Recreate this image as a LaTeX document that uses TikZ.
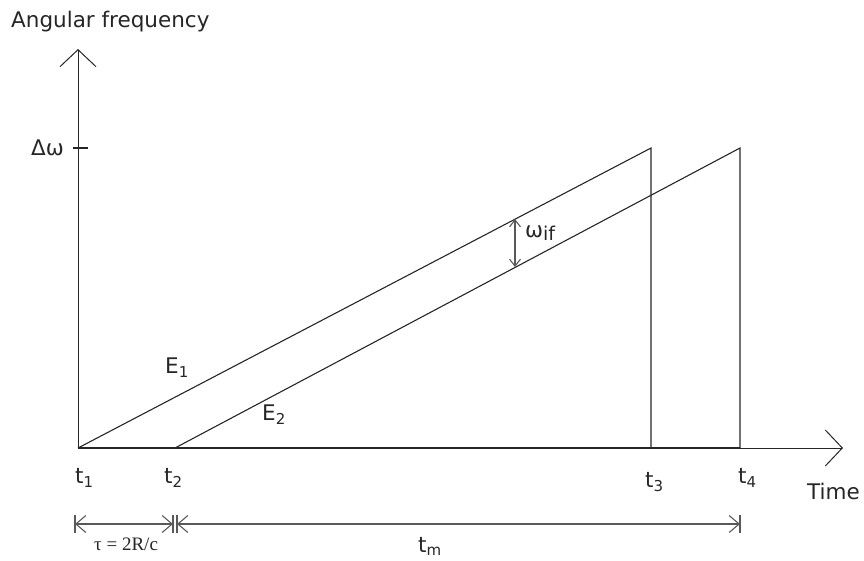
\documentclass[tikz,border=0pt]{standalone}
\usepackage{fontspec}
\setmainfont{DejaVu Sans}
\newfontfamily\serifA{Liberation Serif}
\usetikzlibrary{arrows.meta}
\newcommand\lowsub[1]{\raisebox{-4pt}{\fontsize{15}{15}\selectfont #1}}
\tikzset{
  lbl/.style={inner sep=0pt, anchor=base west, font=\fontsize{21.5}{21.5}\selectfont, text=black!85},
  ln/.style={line width=1.1pt, draw=black!85},
  axis/.style={line width=1pt, draw=black!85, -{Straight Barb[length=17pt,width=36pt,line width=1pt]}},
  dimln/.style={line width=1.1pt, draw=black!65, {Straight Barb[length=10pt,width=17pt]}-{Straight Barb[length=10pt,width=17pt]}},
  bar/.style={line width=1.3pt, draw=black!65},
  wif/.style={line width=1.1pt, draw=black!65, {Straight Barb[length=7pt,width=11pt]}-{Straight Barb[length=7pt,width=11pt]}}
}
\begin{document}
\begin{tikzpicture}[x=1pt,y=-1pt]
\useasboundingbox (0,0) rectangle (864,560);
% coordinates
\coordinate (O) at (78,448);
\coordinate (Ytop) at (78,49);
\coordinate (Xend) at (843,448);
\coordinate (P1) at (651,148);
\coordinate (B1) at (651,448);
\coordinate (S2) at (175,448);
\coordinate (P2) at (740,148);
\coordinate (B2) at (740,448);
\coordinate (TkL) at (73,148);
\coordinate (TkR) at (88,148);
\coordinate (Wa) at (515,219);
\coordinate (Wb) at (515,267);
% axes
\draw[axis] (O) -- (Ytop);
\draw[axis] (O) -- (Xend);
\draw[line width=2pt, draw=black!85] (O) -- (B2);
\draw[ln] (TkL) -- (TkR);
% ramps
\draw[ln] (O) -- (P1) -- (B1);
\draw[ln] (S2) -- (P2) -- (B2);
% omega_if
\draw[wif] (Wa) -- (Wb);
% dimension lines
\coordinate (D1) at (75,524);
\coordinate (D2) at (173,524);
\coordinate (D3) at (177,524);
\coordinate (D4) at (740,524);
\foreach \p in {D1,D2,D3,D4}{\draw[bar] ([yshift=-9pt]\p) -- ([yshift=9pt]\p);}
\draw[dimln] (D1) -- (D2);
\draw[dimln] (D3) -- (D4);
% labels
\node[lbl] (angf) at (11,27) {Angular frequency};
\node[lbl] (time) at (807,499) {Time};
\node[lbl] (dw) at (31,155) {Δω};
\node[lbl] (t1) at (75,483) {t\lowsub{1}};
\node[lbl] (t2) at (164,483) {t\lowsub{2}};
\node[lbl] (t3) at (645,487) {t\lowsub{3}};
\node[lbl] (t4) at (738,483) {t\lowsub{4}};
\node[lbl] (E1) at (165,373) {E\lowsub{1}};
\node[lbl] (E2) at (262,420) {E\lowsub{2}};
\node[lbl] (wl) at (525,237) {ω\raisebox{-3pt}{\fontsize{19}{19}\selectfont if}};
\node[lbl] (tm) at (418,552) {t\raisebox{-3pt}{\fontsize{15}{15}\selectfont m}};
\node[inner sep=0pt, anchor=base west, font=\serifA\fontsize{19}{19}\selectfont, text=black!85] (tau) at (94,550) {τ = 2R/c};
\end{tikzpicture}
\end{document}
